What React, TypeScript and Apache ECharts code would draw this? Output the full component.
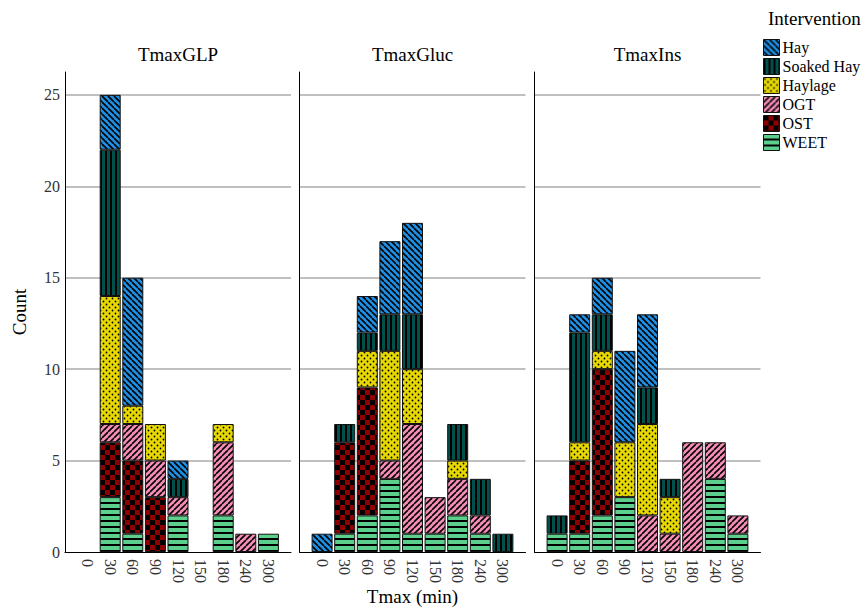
import React, { useEffect, useRef } from 'react';
import * as echarts from 'echarts';

const categories = ['0', '30', '60', '90', '120', '150', '180', '240', '300'];
const panels = ['TmaxGLP', 'TmaxGluc', 'TmaxIns'];
const stackOrder = ['WEET', 'OST', 'OGT', 'Haylage', 'Soaked Hay', 'Hay'];
const legendOrder = ['Hay', 'Soaked Hay', 'Haylage', 'OGT', 'OST', 'WEET'];
const yTicks = [0, 5, 10, 15, 20, 25];

// TmaxGLP counts per Tmax category
const glpWEET = [0, 3, 1, 0, 2, 0, 2, 0, 1];
const glpOST = [0, 3, 4, 3, 0, 0, 0, 0, 0];
const glpOGT = [0, 1, 2, 2, 1, 0, 4, 1, 0];
const glpHaylage = [0, 7, 1, 2, 0, 0, 1, 0, 0];
const glpSoakedHay = [0, 8, 0, 0, 1, 0, 0, 0, 0];
const glpHay = [0, 3, 7, 0, 1, 0, 0, 0, 0];

// TmaxGluc
const glucWEET = [0, 1, 2, 4, 1, 1, 2, 1, 0];
const glucOST = [0, 5, 7, 0, 0, 0, 0, 0, 0];
const glucOGT = [0, 0, 0, 1, 6, 2, 2, 1, 0];
const glucHaylage = [0, 0, 2, 6, 3, 0, 1, 0, 0];
const glucSoakedHay = [0, 1, 1, 2, 3, 0, 2, 2, 1];
const glucHay = [1, 0, 2, 4, 5, 0, 0, 0, 0];

// TmaxIns
const insWEET = [1, 1, 2, 3, 0, 0, 0, 4, 1];
const insOST = [0, 4, 8, 0, 0, 0, 0, 0, 0];
const insOGT = [0, 0, 0, 0, 2, 1, 6, 2, 1];
const insHaylage = [0, 1, 1, 3, 5, 2, 0, 0, 0];
const insSoakedHay = [1, 6, 2, 0, 2, 1, 0, 0, 0];
const insHay = [0, 1, 2, 5, 4, 0, 0, 0, 0];

const panelData: Record<string, number[]>[] = [
  { WEET: glpWEET, OST: glpOST, OGT: glpOGT, Haylage: glpHaylage, 'Soaked Hay': glpSoakedHay, Hay: glpHay },
  { WEET: glucWEET, OST: glucOST, OGT: glucOGT, Haylage: glucHaylage, 'Soaked Hay': glucSoakedHay, Hay: glucHay },
  { WEET: insWEET, OST: insOST, OGT: insOGT, Haylage: insHaylage, 'Soaked Hay': insSoakedHay, Hay: insHay },
];

const FONT = "'Liberation Serif', 'Times New Roman', serif";

function tile(w: number, h: number, bg: string, draw: (ctx: CanvasRenderingContext2D) => void) {
  const c = document.createElement('canvas');
  c.width = w;
  c.height = h;
  const ctx = c.getContext('2d') as CanvasRenderingContext2D;
  ctx.fillStyle = bg;
  ctx.fillRect(0, 0, w, h);
  ctx.fillStyle = '#000';
  ctx.strokeStyle = '#000';
  draw(ctx);
  return c;
}

function makePatterns(): Record<string, any> {
  const s = 6;
  const hay = tile(s, s, '#1f8fe3', (ctx) => {
    ctx.lineWidth = 1.6;
    ctx.beginPath();
    for (const k of [-s, 0, s]) {
      ctx.moveTo(k, 0);
      ctx.lineTo(k + s, s);
    }
    ctx.stroke();
  });
  const ogt = tile(s, s, '#f68db7', (ctx) => {
    ctx.lineWidth = 1.6;
    ctx.beginPath();
    for (const k of [-s, 0, s]) {
      ctx.moveTo(k, s);
      ctx.lineTo(k + s, 0);
    }
    ctx.stroke();
  });
  const soaked = tile(5, 5, '#00504c', (ctx) => {
    ctx.fillRect(0, 0, 2, 5);
  });
  const haylage = tile(6, 6, '#e6d800', (ctx) => {
    ctx.beginPath();
    ctx.arc(1.5, 1.5, 0.9, 0, Math.PI * 2);
    ctx.arc(4.5, 4.5, 0.9, 0, Math.PI * 2);
    ctx.fill();
  });
  const ost = tile(10, 10, '#8f0000', (ctx) => {
    ctx.fillRect(0, 0, 5, 5);
    ctx.fillRect(5, 5, 5, 5);
  });
  const weet = tile(6, 6, '#5ccf8c', (ctx) => {
    ctx.fillRect(0, 4, 6, 2);
  });
  const pat = (c: HTMLCanvasElement) => ({ image: c, repeat: 'repeat' });
  return {
    Hay: pat(hay),
    'Soaked Hay': pat(soaked),
    Haylage: pat(haylage),
    OGT: pat(ogt),
    OST: pat(ost),
    WEET: pat(weet),
  };
}

export default function App() {
  const ref = useRef<HTMLDivElement>(null);

  useEffect(() => {
    if (!ref.current) return;
    const chart = echarts.init(ref.current, undefined, { renderer: 'svg' });
    const patterns = makePatterns();

    const gridLefts = [65, 299.5, 534.5];
    const gridWidth = 226;
    const axisData = ['', ...categories, ''];

    const grids = gridLefts.map((left) => ({
      left,
      top: 72,
      width: gridWidth,
      height: 480,
      containLabel: false,
      outerBoundsMode: 'none',
    }));

    const xAxes = gridLefts.map((_, p) => ({
      type: 'category',
      gridIndex: p,
      data: axisData,
      boundaryGap: false,
      axisLine: { show: true, lineStyle: { color: '#000', width: 1 } },
      axisTick: { show: false },
      axisLabel: {
        interval: 0,
        rotate: -90,
        margin: 7,
        fontSize: 16,
        fontFamily: FONT,
        color: '#333',
      },
      splitLine: { show: false },
      name: p === 1 ? 'Tmax (min)' : '',
      nameLocation: 'middle',
      nameGap: 35,
      nameMoveOverlap: false,
      nameTextStyle: { fontSize: 19, fontFamily: FONT, color: '#000', verticalAlign: 'top' },
    }));

    const yAxes = gridLefts.map((_, p) => ({
      type: 'value',
      gridIndex: p,
      min: 0,
      max: 26.25,
      interval: 5,
      axisLine: { show: true, lineStyle: { color: '#000', width: 1 } },
      axisTick: { show: false },
      axisLabel: {
        show: p === 0,
        showMaxLabel: false,
        margin: 5,
        fontSize: 16,
        fontFamily: FONT,
        color: '#333',
        formatter: (v: number) => (yTicks.includes(v) ? String(v) : ''),
      },
      splitLine: {
        show: true,
        showMinLine: false,
        showMaxLine: false,
        lineStyle: { color: '#ababab', width: 1.5 },
      },
      name: p === 0 ? 'Count' : '',
      nameLocation: 'middle',
      nameGap: 36,
      nameMoveOverlap: false,
      nameTextStyle: { fontSize: 19, fontFamily: FONT, color: '#000' },
    }));

    const series: any[] = [];
    panelData.forEach((pd, p) => {
      stackOrder.forEach((name) => {
        const vals = pd[name];
        series.push({
          type: 'bar',
          name,
          xAxisIndex: p,
          yAxisIndex: p,
          stack: 'panel' + p,
          barWidth: 21,
          data: [null, ...vals.map((v) => (v > 0 ? v : null)), null],
          itemStyle: { color: patterns[name], borderColor: '#111', borderWidth: 1 },
          emphasis: { disabled: true },
        });
      });
    });

    const titles: any[] = panels.map((t, p) => ({
      text: t,
      left: gridLefts[p] + gridWidth / 2,
      textAlign: 'center',
      top: 45,
      padding: 0,
      textStyle: { fontSize: 19, fontWeight: 'normal', fontFamily: FONT, color: '#000' },
    }));
    titles.push({
      text: 'Intervention',
      left: 768,
      top: 9,
      padding: 0,
      textStyle: { fontSize: 19, fontWeight: 'normal', fontFamily: FONT, color: '#000' },
    });

    chart.setOption({
      animation: false,
      backgroundColor: '#fff',
      title: titles,
      grid: grids,
      xAxis: xAxes,
      yAxis: yAxes,
      legend: {
        data: legendOrder,
        orient: 'vertical',
        left: 763,
        top: 39,
        padding: 0,
        itemWidth: 16,
        itemHeight: 16,
        itemGap: 2,
        icon: 'rect',
        selectedMode: false,
        itemStyle: { borderColor: '#111', borderWidth: 1 },
        textStyle: { fontSize: 16, fontFamily: FONT, color: '#000', padding: [0, 0, 0, -2] },
      },
      series,
    });

    return () => chart.dispose();
  }, []);

  return (
    <div
      ref={ref}
      style={{ position: 'fixed', left: 0, top: 0, width: 864, height: 607, background: '#fff' }}
    />
  );
}
